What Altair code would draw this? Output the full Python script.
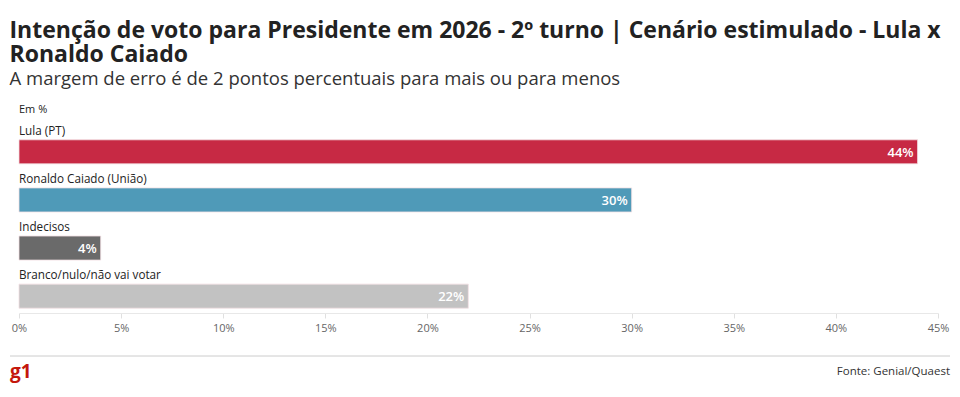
import altair as alt
import pandas as pd

categories = ["Lula (PT)", "Ronaldo Caiado (União)", "Indecisos", "Branco/nulo/não vai votar"]
values = [44, 30, 4, 22]
colors = ["#c72944", "#4f9ab8", "#6a6a6a", "#c2c2c2"]
tick_values = [0, 5, 10, 15, 20, 25, 30, 35, 40, 45]

title_lines = ["Intenção de voto para Presidente em 2026 - 2º turno | Cenário estimulado - Lula x",
               "Ronaldo Caiado"]
subtitle = "A margem de erro é de 2 pontos percentuais para mais ou para menos"
unit_note = "Em %"
source = "Fonte: Genial/Quaest"
logo = "g1"

df = pd.DataFrame({"cat": categories, "val": values, "color": colors,
                   "lbl": [f"{v}%" for v in values]})

FONT = "Open Sans"

y = alt.Y("cat:N", sort=categories, axis=None,
          scale=alt.Scale(paddingInner=0.5, paddingOuter=0.1))
x = alt.X("val:Q", scale=alt.Scale(domain=[0, 45], nice=False),
          axis=alt.Axis(values=tick_values, labelExpr="datum.value + '%'", title=None,
                        grid=False, domainColor="#e8e8e8", tickColor="#e0e0e0",
                        tickSize=5, labelColor="#666666", labelFont=FONT,
                        labelFontSize=11, labelPadding=4, labelFlush=False))

bars = alt.Chart(df).mark_bar(stroke="#f3dfe3", strokeWidth=0.8).encode(
    x=x, y=y, color=alt.Color("color:N", scale=None))

val_text = alt.Chart(df).mark_text(align="right", baseline="middle", dx=-4, dy=1,
                                   font=FONT, fontSize=13, fontWeight=600,
                                   color="white").encode(
    x="val:Q", y=alt.Y("cat:N", sort=categories), text="lbl:N")

cat_text = alt.Chart(df).mark_text(align="left", baseline="alphabetic", yOffset=-17,
                                   font=FONT, fontSize=11.7, color="#222222").encode(
    x=alt.value(0), y=alt.Y("cat:N", sort=categories), text="cat:N")

note = alt.Chart(pd.DataFrame({"t": [unit_note]})).mark_text(
    align="left", baseline="alphabetic", font=FONT, fontSize=11, color="#222222").encode(
    x=alt.value(0), y=alt.value(-22), text="t:N")

footer_line = alt.Chart(pd.DataFrame({"a": [0]})).mark_rule(color="#cccccc", strokeWidth=1).encode(
    x=alt.value(-9), x2=alt.value(931), y=alt.value(221))

logo_t = alt.Chart(pd.DataFrame({"t": [logo]})).mark_text(
    align="left", baseline="alphabetic", font=FONT, fontSize=19, fontWeight="bold",
    color="#c4170c").encode(x=alt.value(-9), y=alt.value(243), text="t:N")

src_t = alt.Chart(pd.DataFrame({"t": [source]})).mark_text(
    align="right", baseline="alphabetic", font=FONT, fontSize=11.5, color="#333333").encode(
    x=alt.value(931), y=alt.value(240), text="t:N")

chart = alt.layer(bars, val_text, cat_text, note, footer_line, logo_t, src_t).properties(
    width=919, height=178,
    title=alt.TitleParams(text=title_lines, subtitle=subtitle, anchor="start", dx=0,
                          font=FONT, fontSize=23, fontWeight="bold", color="#222222",
                          lineHeight=24, subtitleFont=FONT, subtitleFontSize=18.5,
                          subtitleColor="#333333", subtitlePadding=3, offset=16),
    autosize=alt.AutoSizeParams(type="none"),
    padding={"left": 11, "top": 127, "right": 14, "bottom": 70},
).configure_view(stroke=None)

chart.save("out.html", embed_options={"renderer": "svg", "actions": False})
